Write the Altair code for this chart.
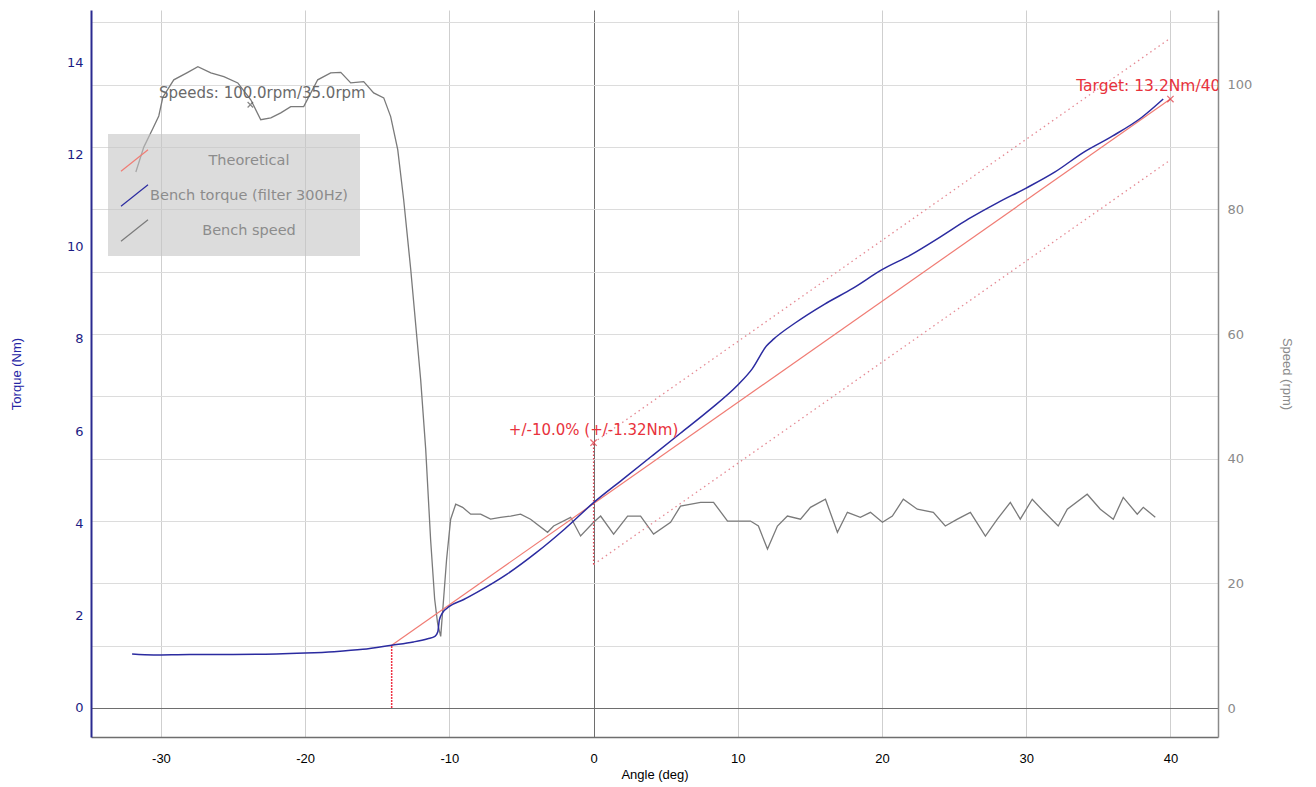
import altair as alt
import pandas as pd

# ---------------- data ----------------
torque_angle = [-32.0, -30.5, -28.0, -25.0, -22.0, -20.0, -18.0, -16.0, -14.0, -12.5, -11.5, -11.0,
                -10.8, -10.7, -10.5, -10.0, -9.0, -8.0, -6.0, -4.0, -2.0, 0.0, 2.0, 4.0, 6.0, 8.0,
                10.0, 11.0, 12.0, 12.5, 14.0, 16.0, 18.0, 20.0, 22.0, 24.0, 26.0, 28.0, 30.0, 32.0,
                34.0, 36.0, 38.0, 39.5]
torque_nm = [1.17, 1.15, 1.16, 1.16, 1.17, 1.19, 1.22, 1.27, 1.36, 1.43, 1.50, 1.55,
             1.65, 1.90, 2.05, 2.20, 2.35, 2.52, 2.90, 3.36, 3.88, 4.45, 4.95, 5.45, 5.95, 6.45,
             7.00, 7.35, 7.85, 8.00, 8.35, 8.75, 9.10, 9.50, 9.82, 10.20, 10.60, 10.95, 11.27, 11.62,
             12.05, 12.40, 12.80, 13.20]

speed_angle = [-31.74, -31.19, -30.56, -30.15, -29.87, -29.11, -28.14, -27.44, -26.54, -25.64,
               -24.67, -23.77, -23.08, -22.38, -21.69, -21.0, -20.1, -19.13, -18.23, -17.53,
               -16.84, -15.94, -15.25, -14.55, -14.07, -13.58, -13.17, -12.68, -11.99, -11.64,
               -11.3, -11.02, -10.81, -10.6, -10.4, -10.19, -9.91, -9.56, -9.08, -8.52, -7.83,
               -7.14, -6.45, -5.75, -5.06, -4.37, -3.19, -2.77, -1.59, -0.9, 0.0, 0.49, 1.39,
               2.36, 3.26, 4.16, 5.34, 6.03, 7.42, 8.32, 9.29, 10.88, 11.43, 12.06, 12.75, 13.44,
               14.35, 15.04, 16.08, 16.91, 17.6, 18.5, 19.2, 20.03, 20.72, 21.48, 22.45, 23.56,
               24.39, 25.23, 26.13, 27.17, 28.0, 28.9, 29.59, 30.42, 31.19, 32.22, 32.85, 34.23,
               35.14, 36.04, 36.73, 37.7, 38.12, 38.95]
speed_rpm = [86.0, 90.0, 93.0, 95.0, 98.0, 100.8, 102.0, 102.9, 101.9, 101.3,
             100.3, 97.6, 94.4, 94.7, 95.5, 96.5, 96.5, 100.8, 101.9, 102.0,
             100.3, 100.5, 98.7, 97.9, 94.9, 89.6, 81.6, 70.4, 52.7, 41.5,
             27.0, 17.5, 13.5, 11.5, 17.5, 23.9, 30.3, 32.7, 32.2, 31.1, 31.1,
             30.3, 30.6, 30.8, 31.1, 30.3, 28.2, 29.2, 30.6, 27.6, 29.8, 30.8, 27.9,
             30.8, 30.8, 27.9, 29.8, 32.4, 33.0, 33.0, 30.0, 30.0, 29.2, 25.5, 29.2, 30.8,
             30.3, 32.2, 33.5, 28.2, 31.4, 30.6, 31.4, 29.8, 30.8, 33.5, 31.9, 31.4,
             29.2, 30.3, 31.4, 27.6, 30.3, 33.0, 30.3, 33.5, 31.6, 29.2, 31.9, 34.3,
             31.9, 30.3, 33.8, 31.1, 32.2, 30.6]

theo_angle = [-14.0, 40.0]
theo_nm = [1.36, 13.2]

band_angle = [0.0, 40.0]
band_upper = [5.75, 14.52]
band_lower = [3.11, 11.88]

start_angle = [-14.0, -14.0]
start_nm = [0.0, 1.36]
zero_angle = [0.0, 0.0]
zero_nm = [3.11, 5.75]

tol_label = ["+/-10.0% (+/-1.32Nm)"]
tol_angle = [0.0]
tol_nm = [5.75]

target_label = ["Target: 13.2Nm/40"]
target_angle = [40.0]
target_nm = [13.2]

speeds_label = ["Speeds: 100.0rpm/35.0rpm"]
speeds_angle = [-23.8]
speeds_rpm = [96.8]

series_names = ["Theoretical", "Bench torque (filter 300Hz)", "Bench speed"]
series_colors = ["#f07c74", "#2b2ba0", "#7a7a7a"]

x_ticks = [-30, -20, -10, 0, 10, 20, 30, 40]
torque_ticks = [0, 2, 4, 6, 8, 10, 12, 14]
speed_ticks = [0, 10, 20, 30, 40, 50, 60, 70, 80, 90, 100, 110]

# ---------------- tables ----------------
torque_df = pd.DataFrame({"angle": torque_angle, "nm": torque_nm, "series": series_names[1]})
theo_df = pd.DataFrame({"angle": theo_angle, "nm": theo_nm, "series": series_names[0]})
speed_df = pd.DataFrame({"angle": speed_angle, "rpm": speed_rpm, "series": series_names[2]})
upper_df = pd.DataFrame({"angle": band_angle, "nm": band_upper})
lower_df = pd.DataFrame({"angle": band_angle, "nm": band_lower})
start_df = pd.DataFrame({"angle": start_angle, "nm": start_nm})
zero_df = pd.DataFrame({"angle": zero_angle, "nm": zero_nm})
tol_df = pd.DataFrame({"angle": tol_angle, "nm": tol_nm, "label": tol_label})
target_df = pd.DataFrame({"angle": target_angle, "nm": target_nm, "label": target_label})
speeds_df = pd.DataFrame({"angle": speeds_angle, "rpm": speeds_rpm, "label": speeds_label})

# ---------------- encodings ----------------
VERD = "DejaVu Sans"
NARROW = "Liberation Sans Narrow, Liberation Sans, Arial, sans-serif"

X = alt.X(
    "angle:Q",
    scale=alt.Scale(domain=[-34.85, 43.3], nice=False, zero=False),
    axis=alt.Axis(
        values=x_ticks, title="Angle (deg)", ticks=False,
        labelExpr="datum.value < 0 ? '-' + abs(datum.value) : '' + datum.value",
        labelFont=NARROW, labelFontSize=13, labelColor="#000000", labelPadding=15,
        titleFont=NARROW, titleFontSize=13, titleFontWeight="normal", titleColor="#000000",
        titlePadding=3,
        domainColor="#6e6e6e", domainWidth=1.5,
        gridColor={"condition": {"test": "datum.value === 0", "value": "#6e6e6e"}, "value": "#cfcfcf"},
        gridWidth=1,
    ),
)

Y_T = alt.Y(
    "nm:Q",
    scale=alt.Scale(domain=[-0.63, 15.13], nice=False, zero=False),
    axis=alt.Axis(
        values=torque_ticks, title="Torque (Nm)", ticks=False, orient="left",
        labelFont=VERD, labelFontSize=13, labelColor="#1c1c84", labelPadding=8,
        titleFont=NARROW, titleFontSize=13, titleFontWeight="normal", titleColor="#2525a5",
        titlePadding=43,
        domainColor="#2a2a90", domainWidth=2,
        gridColor={"condition": {"test": "datum.value === 0", "value": "#6e6e6e"}, "value": "#d4d4e2"},
        gridWidth=1,
    ),
)

Y_S = alt.Y(
    "rpm:Q",
    scale=alt.Scale(domain=[-4.65, 112.0], nice=False, zero=False),
    axis=alt.Axis(
        values=speed_ticks, title="Speed (rpm)", ticks=False, orient="right",
        labelExpr="datum.value % 20 === 0 ? datum.label : ''",
        labelFont=VERD, labelFontSize=13, labelColor="#8a8a8a", labelPadding=9,
        titleFont=NARROW, titleFontSize=13, titleFontWeight="normal", titleColor="#8a8a8a",
        titlePadding=28,
        domainColor="#8a8a8a", domainWidth=1.5,
        gridColor={"condition": {"test": "datum.value === 0", "value": "#6e6e6e"}, "value": "#dcdcdc"},
        gridWidth=1,
    ),
)

COLOR = alt.Color(
    "series:N",
    scale=alt.Scale(domain=series_names, range=series_colors),
    legend=alt.Legend(
        orient="none", legendX=17, legendY=124, title=None,
        symbolType="M-1,0.8L1,-0.8", symbolSize=729, symbolStrokeWidth=1.2,
        labelFont=VERD, labelFontSize=14.5, labelColor="#8c8c8c",
        labelAlign="center", labelOffset=100, labelLimit=400,
        fillColor="rgba(196,196,196,0.6)", padding=12, rowPadding=7,
    ),
)

CROSS = "M-1,-1L1,1M-1,1L1,-1"

# ---------------- torque-axis layers ----------------
theo_line = alt.Chart(theo_df).mark_line(strokeWidth=1.2).encode(x=X, y=Y_T, color=COLOR)
torque_line = alt.Chart(torque_df).mark_line(strokeWidth=1.5, interpolate="monotone").encode(
    x=X, y=Y_T, color=COLOR)
upper_line = alt.Chart(upper_df).mark_line(strokeWidth=1.3, strokeDash=[1.5, 3.5], color="#e58a94").encode(x=X, y=Y_T)
lower_line = alt.Chart(lower_df).mark_line(strokeWidth=1.3, strokeDash=[1.5, 3.5], color="#e58a94").encode(x=X, y=Y_T)
start_line = alt.Chart(start_df).mark_line(strokeWidth=1.5, strokeDash=[2, 1], color="#ee3344").encode(x=X, y=Y_T)
zero_line = alt.Chart(zero_df).mark_line(strokeWidth=1.3, strokeDash=[1.5, 2], color="#e04455").encode(x=X, y=Y_T)
tol_mark = alt.Chart(tol_df).mark_point(shape=CROSS, size=40, color="#e0323c", strokeWidth=1.3, filled=False).encode(x=X, y=Y_T)
tol_text = alt.Chart(tol_df).mark_text(font=VERD, fontSize=15, color="#e8323c", dy=-13, align="center").encode(
    x=X, y=Y_T, text="label:N")
target_mark = alt.Chart(target_df).mark_point(shape=CROSS, size=40, color="#e0323c", strokeWidth=1.3, filled=False).encode(x=X, y=Y_T)
target_text = alt.Chart(target_df).mark_text(font=VERD, fontSize=15.5, color="#e8323c", dy=-13, dx=50,
                                             align="right", clip=True).encode(x=X, y=Y_T, text="label:N")

torque_layers = alt.layer(upper_line, lower_line, start_line, zero_line, theo_line, torque_line,
                          tol_mark, tol_text, target_mark, target_text)

# ---------------- speed-axis layers ----------------
speed_line = alt.Chart(speed_df).mark_line(strokeWidth=1.3).encode(x=X, y=Y_S, color=COLOR)
speeds_mark = alt.Chart(speeds_df).mark_point(shape=CROSS, size=30, color="#555555", strokeWidth=1.2, filled=False).encode(x=X, y=Y_S)
speeds_text = alt.Chart(speeds_df).mark_text(font=VERD, fontSize=15, color="#6a6a6a", dy=-12, dx=12, align="center").encode(
    x=X, y=Y_S, text="label:N")

speed_layers = alt.layer(speed_line, speeds_mark, speeds_text)

chart = (
    alt.layer(speed_layers, torque_layers)
    .resolve_scale(y="independent")
    .properties(
        width=1127, height=727,
        autosize=alt.AutoSizeParams(type="none"),
        padding={"left": 83, "top": 2, "right": 90, "bottom": 47},
        background="white",
    )
    .configure_view(stroke=None)
)

chart.save("out.html", embed_options={"renderer": "svg", "actions": False})
